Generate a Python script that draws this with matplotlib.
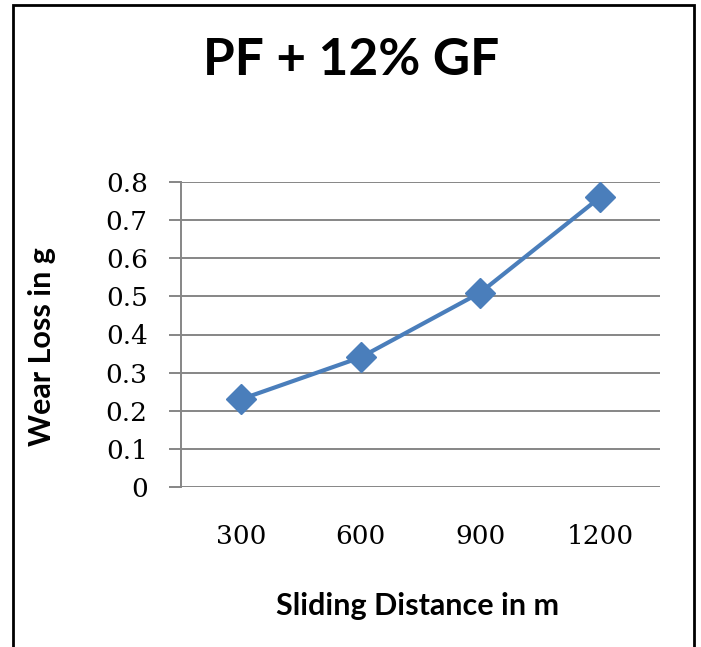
import matplotlib.pyplot as plt
from matplotlib.patches import Rectangle

distance = ['300', '600', '900', '1200']
wear_loss = [0.23, 0.34, 0.51, 0.76]
y_ticks = [0, 0.1, 0.2, 0.3, 0.4, 0.5, 0.6, 0.7, 0.8]
y_tick_labels = ['0', '0.1', '0.2', '0.3', '0.4', '0.5', '0.6', '0.7', '0.8']

W, H = 701, 647
fig = plt.figure(figsize=(W / 100, H / 100), dpi=100)
ax = fig.add_axes([181 / W, (H - 487) / H, 479 / W, 305 / H])

x = range(len(distance))
ax.plot(x, wear_loss, color='#4a7ebb', lw=3.0, marker='D', ms=15,
        markerfacecolor='#4a7ebb', markeredgecolor='#4a7ebb', zorder=3)

ax.set_xlim(-0.5, len(distance) - 0.5)
ax.set_ylim(0, 0.8)
ax.set_yticks(y_ticks)
ax.set_yticklabels(y_tick_labels, family='DejaVu Serif', fontsize=19)
ax.set_xticks(list(x))
ax.set_xticklabels(distance, family='DejaVu Serif', fontsize=19)
ax.tick_params(axis='x', length=0, pad=27)
ax.tick_params(axis='y', length=9, width=1.4, color='#868686', pad=15)
ax.grid(axis='y', color='#868686', lw=1.4)
ax.set_axisbelow(True)
for s in ['top', 'right', 'bottom']:
    ax.spines[s].set_visible(False)
ax.spines['left'].set_color('#868686')
ax.spines['left'].set_linewidth(1.4)

fig.text(418 / W, 1 - 615 / H, 'Sliding Distance in m', family='Lato',
         fontweight='bold', fontsize=22, ha='center', va='baseline')
fig.text(42 / W, 1 - 347 / H, 'Wear Loss in g', family='Lato',
         fontweight='bold', fontsize=22, ha='center', va='center', rotation=90)

fig.text(351 / W, 1 - 75 / H, 'PF + 12% GF', family='Lato', fontweight='bold',
         fontsize=37, ha='center', va='baseline')

fig.patches.append(Rectangle((13 / W, -0.05), 681 / W, 1.05 - 5 / H,
                             transform=fig.transFigure, fill=False,
                             ec='black', lw=2))

fig.savefig('out.png', dpi=100)
